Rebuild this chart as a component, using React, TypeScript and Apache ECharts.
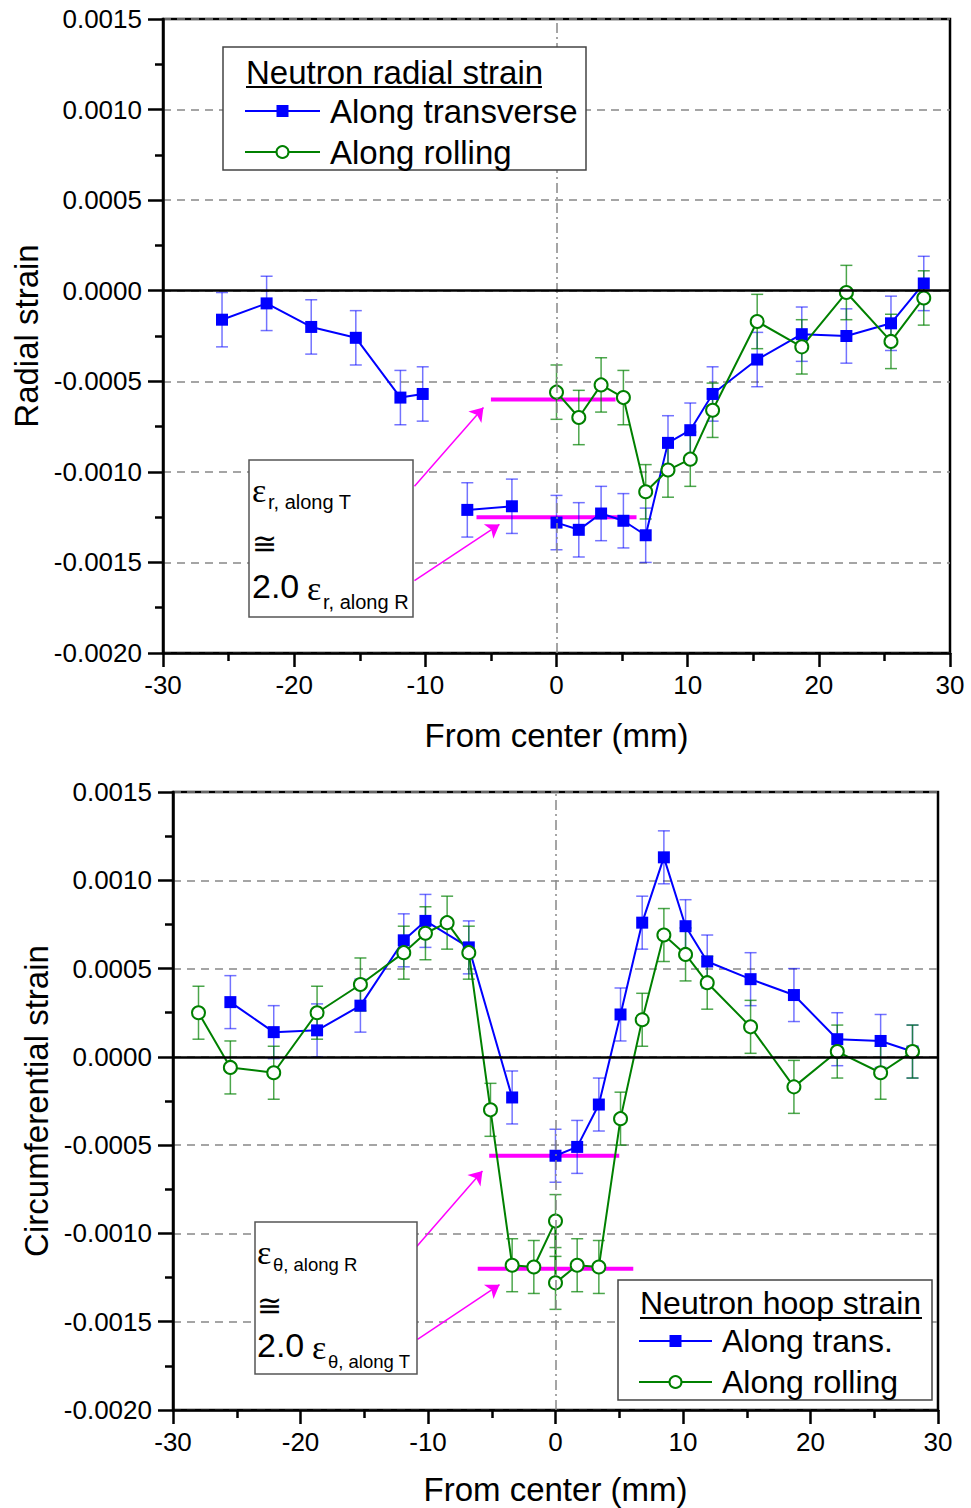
import React, { useEffect, useRef } from 'react';
import * as echarts from 'echarts';

// ---------- data ----------
const xMin = -30;
const xMax = 30;
const xInterval = 10;
const yMin = -0.002;
const yMax = 0.0015;
const yInterval = 0.0005;
const yDecimals = 4;

// Top chart: neutron radial strain
const radialTransX = [-25.5, -22.1, -18.7, -15.3, -11.9, -10.2, -6.8, -3.4, 0, 1.7, 3.4, 5.1, 6.8, 8.5, 10.2, 11.9, 15.3, 18.7, 22.1, 25.5, 28.0];
const radialTransY = [-0.00016, -0.00007, -0.00020, -0.00026, -0.00059, -0.00057, -0.00121, -0.00119, -0.00128, -0.00132, -0.00123, -0.00127, -0.00135, -0.00084, -0.00077, -0.00057, -0.00038, -0.00024, -0.00025, -0.00018, 0.00004];
const radialTransErr = [0.00015, 0.00015, 0.00015, 0.00015, 0.00015, 0.00015, 0.00015, 0.00015, 0.00015, 0.00015, 0.00015, 0.00015, 0.00015, 0.00015, 0.00015, 0.00015, 0.00015, 0.00015, 0.00015, 0.00015, 0.00015];
const radialTransBreaks = [5, 7];

const radialRollX = [0, 1.7, 3.4, 5.1, 6.8, 8.5, 10.2, 11.9, 15.3, 18.7, 22.1, 25.5, 28.0];
const radialRollY = [-0.00056, -0.00070, -0.00052, -0.00059, -0.00111, -0.00099, -0.00093, -0.00066, -0.00017, -0.00031, -0.00001, -0.00028, -0.00004];
const radialRollErr = [0.00015, 0.00015, 0.00015, 0.00015, 0.00015, 0.00015, 0.00015, 0.00015, 0.00015, 0.00015, 0.00015, 0.00015, 0.00015];

const radialLevelUpper = { x: [-5.0, 4.5], y: -0.0006 };
const radialLevelLower = { x: [-6.1, 6.1], y: -0.00125 };
const radialArrows = [
  [[-10.83, -0.00108], [-5.57, -0.000645]],
  [[-10.83, -0.0016], [-4.35, -0.00129]],
];

// Bottom chart: neutron hoop strain
const hoopTransX = [-25.5, -22.1, -18.7, -15.3, -11.9, -10.2, -6.8, -3.4, 0, 1.7, 3.4, 5.1, 6.8, 8.5, 10.2, 11.9, 15.3, 18.7, 22.1, 25.5, 28.0];
const hoopTransY = [0.00031, 0.00014, 0.00015, 0.00029, 0.00066, 0.00077, 0.00062, -0.00023, -0.00056, -0.00051, -0.00027, 0.00024, 0.00076, 0.00113, 0.00074, 0.00054, 0.00044, 0.00035, 0.00010, 0.00009, 0.00003];
const hoopTransErr = [0.00015, 0.00015, 0.00015, 0.00015, 0.00015, 0.00015, 0.00015, 0.00015, 0.00015, 0.00015, 0.00015, 0.00015, 0.00015, 0.00015, 0.00015, 0.00015, 0.00015, 0.00015, 0.00015, 0.00015, 0.00015];
const hoopTransBreaks = [7];

const hoopRollX = [-28.0, -25.5, -22.1, -18.7, -15.3, -11.9, -10.2, -8.5, -6.8, -5.1, -3.4, -1.7, 0, 0, 1.7, 3.4, 5.1, 6.8, 8.5, 10.2, 11.9, 15.3, 18.7, 22.1, 25.5, 28.0];
const hoopRollY = [0.00025, -0.00006, -0.00009, 0.00025, 0.00041, 0.00059, 0.00070, 0.00076, 0.00059, -0.00030, -0.00118, -0.00119, -0.00093, -0.00128, -0.00118, -0.00119, -0.00035, 0.00021, 0.00069, 0.00058, 0.00042, 0.00017, -0.00017, 0.00003, -0.00009, 0.00003];
const hoopRollErr = [0.00015, 0.00015, 0.00015, 0.00015, 0.00015, 0.00015, 0.00015, 0.00015, 0.00015, 0.00015, 0.00015, 0.00015, 0.00015, 0.00015, 0.00015, 0.00015, 0.00015, 0.00015, 0.00015, 0.00015, 0.00015, 0.00015, 0.00015, 0.00015, 0.00015, 0.00015];

const hoopLevelUpper = { x: [-5.2, 5.0], y: -0.00056 };
const hoopLevelLower = { x: [-6.1, 6.1], y: -0.0012 };
const hoopArrows = [
  [[-10.9, -0.001076], [-5.73, -0.000646]],
  [[-10.82, -0.0016], [-4.39, -0.00129]],
];

// ---------- styles ----------
const SANS = "'Liberation Sans', Arial, Helvetica, sans-serif";
const SERIF = "'Liberation Serif', 'Times New Roman', serif";
const BLUE = '#0000ff';
const GREEN = '#008000';
const MAGENTA = '#ff00ff';

function lineData(xs: number[], ys: number[], breaks: number[] = []) {
  const out: any[] = [];
  xs.forEach((x, i) => {
    out.push([x, ys[i]]);
    if (breaks.includes(i) && i < xs.length - 1) out.push([(x + xs[i + 1]) / 2, '-']);
  });
  return out;
}

function errorBars(xs: number[], ys: number[], errs: number[], color: string, idx: number) {
  return {
    type: 'custom',
    xAxisIndex: idx,
    yAxisIndex: idx,
    silent: true,
    z: 2,
    data: xs.map((x, i) => [x, ys[i], errs[i]]),
    encode: { x: 0, y: 1 },
    renderItem: (_p: any, api: any) => {
      const x = api.value(0);
      const y = api.value(1);
      const e = api.value(2);
      const t = api.coord([x, y + e]);
      const b = api.coord([x, y - e]);
      const w = 6;
      const style = { stroke: color, lineWidth: 1.5 };
      return {
        type: 'group',
        children: [
          { type: 'line', shape: { x1: t[0], y1: t[1], x2: b[0], y2: b[1] }, style },
          { type: 'line', shape: { x1: t[0] - w, y1: t[1], x2: t[0] + w, y2: t[1] }, style },
          { type: 'line', shape: { x1: b[0] - w, y1: b[1], x2: b[0] + w, y2: b[1] }, style },
        ],
      };
    },
  };
}

function levelSeries(level: { x: number[]; y: number }, idx: number, extra: any = {}) {
  return {
    type: 'line',
    xAxisIndex: idx,
    yAxisIndex: idx,
    silent: true,
    z: 1,
    symbol: 'none',
    data: level.x.map((x) => [x, level.y]),
    lineStyle: { color: MAGENTA, width: 4 },
    ...extra,
  };
}

function guideMarkLine() {
  return {
    silent: true,
    symbol: ['none', 'none'],
    label: { show: false },
    emphasis: { disabled: true },
    data: [
      { xAxis: 0, lineStyle: { color: '#888', width: 1.5, type: [10, 4, 2, 4] } },
      { yAxis: 0, lineStyle: { color: '#000', width: 2.5, type: 'solid' } },
    ],
  };
}

function arrowMarkLine(arrows: number[][][]) {
  return {
    silent: true,
    symbol: ['none', 'arrow'],
    symbolSize: 13,
    label: { show: false },
    emphasis: { disabled: true },
    lineStyle: { color: MAGENTA, width: 1.5, type: 'solid' },
    data: arrows.map((a) => [{ coord: a[0] }, { coord: a[1] }]),
  };
}

function mainLine(data: any[], color: string, idx: number, isCircle: boolean) {
  return {
    type: 'line',
    xAxisIndex: idx,
    yAxisIndex: idx,
    z: 3,
    data,
    symbol: isCircle ? 'circle' : 'rect',
    symbolSize: isCircle ? 13 : 12,
    lineStyle: { color, width: 2 },
    itemStyle: isCircle
      ? { color: '#fff', borderColor: color, borderWidth: 2 }
      : { color, borderWidth: 0 },
    connectNulls: false,
  };
}

function xAxis(idx: number, nameGap: number) {
  return {
    type: 'value',
    gridIndex: idx,
    min: xMin,
    max: xMax,
    interval: xInterval,
    name: 'From center (mm)',
    nameLocation: 'middle',
    nameGap,
    nameTextStyle: { fontSize: 33, color: '#000', fontFamily: SANS },
    axisLine: { show: true, onZero: false, lineStyle: { color: '#000', width: 2.5 } },
    axisTick: { show: true, inside: false, length: 14, lineStyle: { color: '#000', width: 2.5 } },
    minorTick: { show: true, splitNumber: 2, length: 8, lineStyle: { color: '#000', width: 2.5 } },
    axisLabel: { fontSize: 26, color: '#000', margin: 19, fontFamily: SANS },
    splitLine: { show: false },
    minorSplitLine: { show: false },
  };
}

function yAxis(idx: number, name: string) {
  return {
    type: 'value',
    gridIndex: idx,
    min: yMin,
    max: yMax,
    interval: yInterval,
    name,
    nameLocation: 'middle',
    nameGap: 120,
    nameTextStyle: { fontSize: 33, color: '#000', fontFamily: SANS },
    axisLine: { show: true, onZero: false, lineStyle: { color: '#000', width: 2.5 } },
    axisTick: { show: true, inside: false, length: 15, lineStyle: { color: '#000', width: 2.5 } },
    minorTick: { show: true, splitNumber: 2, length: 8, lineStyle: { color: '#000', width: 2.5 } },
    axisLabel: {
      fontSize: 26,
      color: '#000',
      margin: 21,
      fontFamily: SANS,
      formatter: (v: number) => (Math.abs(v) < 1e-12 ? 0 : v).toFixed(yDecimals),
    },
    splitLine: { show: true, lineStyle: { color: '#888', width: 1.5, type: [8, 6] } },
  };
}

function txt(x: number, y: number, text: string, size: number, family = SANS) {
  return {
    type: 'text',
    x,
    y,
    z: 101,
    style: {
      text,
      fontSize: size,
      fontFamily: family,
      fill: '#000',
      textAlign: 'left',
      textVerticalAlign: 'middle',
      align: 'left',
      verticalAlign: 'middle',
    },
  };
}

function hline(x1: number, x2: number, y: number, color: string, w: number) {
  return { type: 'line', z: 101, shape: { x1, y1: y, x2, y2: y }, style: { stroke: color, lineWidth: w } };
}

function legendBlock(
  box: [number, number, number, number],
  title: string,
  titleX: number,
  titleY: number,
  underlineEnd: number,
  underlineY: number,
  rows: { y: number; label: string; circle: boolean }[],
  lineX1: number,
  lineX2: number,
  textX: number,
  fontSize: number
) {
  const els: any[] = [
    {
      type: 'rect',
      z: 100,
      shape: { x: box[0], y: box[1], width: box[2], height: box[3] },
      style: { fill: '#fff', stroke: '#444', lineWidth: 1.5 },
    },
    txt(titleX, titleY, title, fontSize),
    hline(titleX, underlineEnd, underlineY, '#000', 2),
  ];
  const cx = (lineX1 + lineX2) / 2;
  rows.forEach((r) => {
    const c = r.circle ? GREEN : BLUE;
    els.push(hline(lineX1, lineX2, r.y, c, 2));
    if (r.circle) {
      els.push({ type: 'circle', z: 102, shape: { cx, cy: r.y, r: 6 }, style: { fill: '#fff', stroke: c, lineWidth: 2 } });
    } else {
      els.push({ type: 'rect', z: 102, shape: { x: cx - 6, y: r.y - 6, width: 12, height: 12 }, style: { fill: c } });
    }
    els.push(txt(textX, r.y, r.label, fontSize));
  });
  return els;
}

function annotationBlock(
  box: [number, number, number, number],
  x: number,
  ys: number[],
  subTop: string,
  subBottom: string,
  subSize: number
) {
  return [
    {
      type: 'rect',
      z: 100,
      shape: { x: box[0], y: box[1], width: box[2], height: box[3] },
      style: { fill: '#fff', stroke: '#555', lineWidth: 1.5 },
    },
    txt(x, ys[0], 'ε', 34, SERIF),
    txt(x + 16, ys[0] + 12, subTop, subSize),
    txt(x, ys[1], '≅', 30, SERIF),
    txt(x, ys[2], '2.0', 34),
    txt(x + 55, ys[2] + 2, 'ε', 34, SERIF),
    txt(x + 71, ys[2] + 16, subBottom, subSize),
  ];
}

function buildOption() {
  const graphic: any[] = [
    ...legendBlock([223, 47, 363, 123], 'Neutron radial strain', 246, 72, 542, 87,
      [
        { y: 111, label: 'Along transverse', circle: false },
        { y: 152, label: 'Along rolling', circle: true },
      ], 245, 320, 330, 33),
    ...annotationBlock([249, 460, 164, 157], 252, [490, 543, 586], 'r, along T', 'r, along R', 20),
    ...legendBlock([618, 1280, 314, 120], 'Neutron hoop strain', 640, 1303, 922, 1318,
      [
        { y: 1341, label: 'Along trans.', circle: false },
        { y: 1382, label: 'Along rolling', circle: true },
      ], 639, 712, 722, 32),
    ...annotationBlock([255, 1222, 162, 152], 257, [1252, 1305, 1345], 'θ, along R', 'θ, along T', 18.5),
  ];

  return {
    animation: false,
    backgroundColor: '#fff',
    textStyle: { fontFamily: SANS },
    grid: [
      { left: 163, top: 19, width: 787, height: 634, show: true, borderColor: '#000', borderWidth: 2.5, backgroundColor: 'transparent' },
      { left: 173, top: 792, width: 765, height: 618, show: true, borderColor: '#000', borderWidth: 2.5, backgroundColor: 'transparent' },
    ],
    xAxis: [xAxis(0, 66), xAxis(1, 63)],
    yAxis: [yAxis(0, 'Radial strain'), yAxis(1, 'Circumferential strain')],
    graphic,
    series: [
      // top chart
      levelSeries(radialLevelUpper, 0, { markLine: guideMarkLine() }),
      levelSeries(radialLevelLower, 0, { markLine: arrowMarkLine(radialArrows) }),
      errorBars(radialTransX, radialTransY, radialTransErr, 'rgba(0,0,255,0.55)', 0),
      errorBars(radialRollX, radialRollY, radialRollErr, 'rgba(0,128,0,0.7)', 0),
      { name: 'Along transverse', ...mainLine(lineData(radialTransX, radialTransY, radialTransBreaks), BLUE, 0, false) },
      { name: 'Along rolling', ...mainLine(lineData(radialRollX, radialRollY), GREEN, 0, true) },
      // bottom chart
      levelSeries(hoopLevelUpper, 1, { markLine: guideMarkLine() }),
      levelSeries(hoopLevelLower, 1, { markLine: arrowMarkLine(hoopArrows) }),
      errorBars(hoopTransX, hoopTransY, hoopTransErr, 'rgba(0,0,255,0.55)', 1),
      errorBars(hoopRollX, hoopRollY, hoopRollErr, 'rgba(0,128,0,0.7)', 1),
      { name: 'Along trans.', ...mainLine(lineData(hoopTransX, hoopTransY, hoopTransBreaks), BLUE, 1, false) },
      { name: 'Along rolling ', ...mainLine(lineData(hoopRollX, hoopRollY), GREEN, 1, true) },
    ],
  };
}

export default function App() {
  const ref = useRef<HTMLDivElement>(null);
  useEffect(() => {
    document.body.style.margin = '0';
    const chart = echarts.init(ref.current as HTMLDivElement, null, { renderer: 'svg' });
    chart.setOption(buildOption() as any);
    return () => chart.dispose();
  }, []);
  return (
    <div
      ref={ref}
      style={{ width: 971, height: 1508, position: 'absolute', left: 0, top: 0, background: '#fff' }}
    />
  );
}
